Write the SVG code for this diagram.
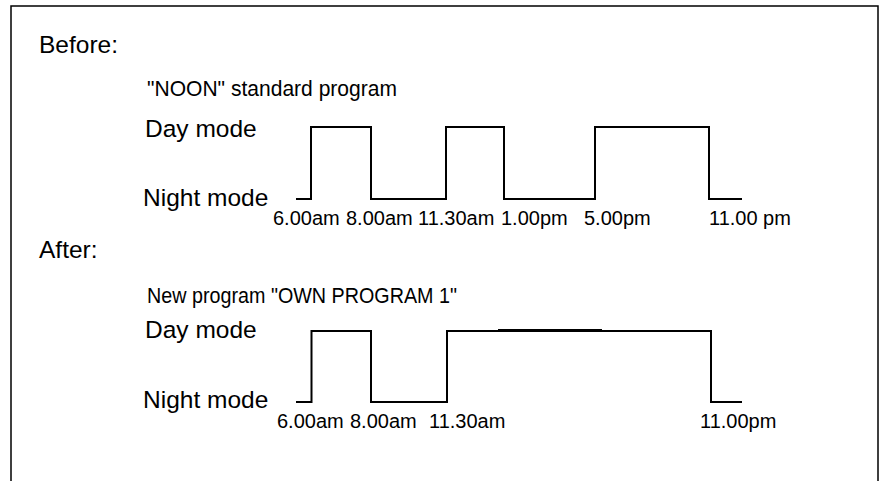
<svg xmlns="http://www.w3.org/2000/svg" width="886" height="481" viewBox="0 0 886 481">
<style>
  .t { font-family: "Liberation Sans", Arial, sans-serif; fill: #000; }
  .lbl { font-size: 24.5px; }
  .hd { font-size: 22px; }
  .tm { font-size: 20px; }
  .wave { fill: none; stroke: #000; stroke-width: 2; stroke-linejoin: miter; }
  .frame { fill: none; stroke: #000; stroke-width: 1.5; }
</style>
<rect width="886" height="481" fill="#fff"/>
<path class="frame" d="M11,481 V6 H878 V481"/>

<g id="before">
  <text class="t lbl" x="39" y="53">Before:</text>
  <text class="t hd" x="147" y="96" textLength="250" lengthAdjust="spacingAndGlyphs">"NOON" standard program</text>
  <text class="t lbl" x="145" y="137">Day mode</text>
  <text class="t lbl" x="143" y="206">Night mode</text>
  <g id="before-times">
    <text class="t tm" x="273" y="225">6.00am</text>
    <text class="t tm" x="346" y="225">8.00am</text>
    <text class="t tm" x="418" y="225">11.30am</text>
    <text class="t tm" x="501" y="225">1.00pm</text>
    <text class="t tm" x="584" y="225">5.00pm</text>
    <text class="t tm" x="709" y="225">11.00 pm</text>
  </g>
</g>

<g id="after">
  <text class="t lbl" x="39" y="258">After:</text>
  <text class="t hd" x="147" y="303" textLength="310" lengthAdjust="spacingAndGlyphs">New program "OWN PROGRAM 1"</text>
  <text class="t lbl" x="145" y="338">Day mode</text>
  <text class="t lbl" x="143" y="408">Night mode</text>
  <g id="after-times">
    <text class="t tm" x="277" y="428">6.00am</text>
    <text class="t tm" x="350" y="428">8.00am</text>
    <text class="t tm" x="429" y="428">11.30am</text>
    <text class="t tm" x="700" y="428">11.00pm</text>
  </g>
</g>

<g id="connectors">
  <path class="wave" d="M296,199 H311 V127 H371 V199 H446 V127 H504 V199 H595 V127 H709 V199 H742"/>
  <path class="wave" d="M296,402 H311.5 V331 H371 V402 H447 V331 H711 V402 H742"/>
  <path class="wave" d="M498,330 H602"/>
</g>
</svg>
